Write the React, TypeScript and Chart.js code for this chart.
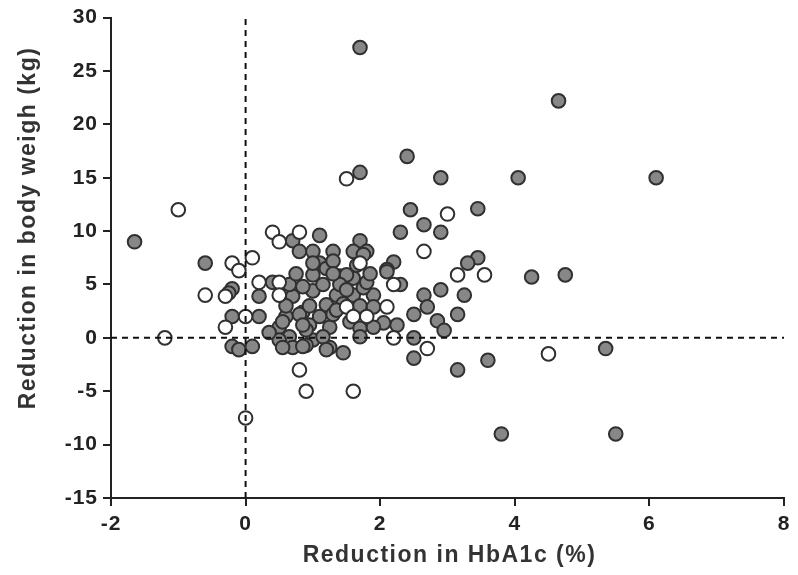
import React, { useEffect, useRef } from "react";
import { Chart, registerables } from "chart.js";

Chart.register(...registerables);

// HbA1c reduction (%) / body weight reduction (kg) — filled markers
const filledX = [
  -1.65, 1.7, 4.65, 2.4, 1.7, 2.9, 4.05, 6.1, 2.45, 3.45, 2.3, 2.65, 2.9, 1.7, 1.6, 1.8, 1.3,
  2.2, 2.1, 3.45, 3.3, 2.3, 2.65, 2.9, 3.25, 2.7, 2.5, 2.85, 2.95, 3.15, 2.5, 2.5, 3.6, 3.15,
  2.25, 2.05, 4.25, 4.75, 5.35, 3.8, 5.5, -0.6, 0.7, 1.1, 0.8, 1.0, 1.1, 1.0, -0.2, 0.4, 0.2,
  0.7, 1.0, 0.85, -0.2, 0.2, 0.6, 0.5, 0.65, 0.95, 1.25, -0.2, -0.1, 0.1, 0.5, 0.7, 1.0, 1.25,
  1.45, 1.4, 1.6, 1.35, 1.6, 1.9, 1.7, 1.9, 1.55, 1.7, 1.9, 1.7, 1.5, 2.1, 1.4, 1.75, 1.2, 1.1,
  1.3, 0.9, 1.15, 0.9, 1.2, 0.55, 0.8, 0.85, 0.85, 0.55, -0.25, 0.65, 0.85, 1.2, 1.3, 1.8, 0.35,
  1.15, 1.5, 1.85, 1.3, 0.95, 0.6, 1.45, 1.65, 1.0, 1.75, 1.35, 0.75,
];
const filledY = [
  9.0, 27.2, 22.2, 17.0, 15.5, 15.0, 15.0, 15.0, 12.0, 12.1, 9.9, 10.6, 9.9, 9.1, 8.1, 8.1, 8.1,
  7.1, 6.4, 7.5, 7.0, 5.0, 4.0, 4.5, 4.0, 2.9, 2.2, 1.6, 0.7, 2.2, 0.0, -1.9, -2.1, -3.0,
  1.2, 1.4, 5.7, 5.9, -1.0, -9.0, -9.0, 7.0, 9.1, 9.6, 8.1, 8.1, 7.0, 5.9, 4.6, 5.2, 3.9,
  3.9, 4.4, 2.4, 2.0, 2.0, 2.0, 1.0, 0.1, 1.2, 1.0, -0.8, -1.1, -0.8, -0.2, -0.9, -0.2, -0.9,
  -1.4, 5.8, 5.6, 4.0, 4.0, 4.0, 3.0, 2.9, 1.5, 0.9, 1.0, 0.1, 5.9, 6.2, 5.0, 4.7, 3.1, 2.0,
  2.2, 0.75, 0.1, -0.7, -1.1, 1.5, 2.2, 1.2, -0.8, -0.9, 4.2, 5.0, 4.8, 6.5, 7.2, 5.2, 0.5,
  5.0, 4.5, 6.0, 6.0, 3.0, 3.0, 3.2, 6.8, 7.0, 7.8, 2.6, 6.0,
];

// open markers
const openX = [
  1.5, -1.0, 3.0, 0.4, 0.8, 0.5, 2.65, 1.7, 3.15, 3.55, 2.2, 2.1, -0.2, 0.1, -0.1, -0.6, -0.3,
  0.2, 0.5, 0.5, 0.0, -0.3, -1.2, 2.2, 2.7, 4.5, 0.8, 0.9, 1.6, 0.0, 1.5, 1.6, 1.8,
];
const openY = [
  14.9, 12.0, 11.6, 9.9, 9.9, 9.0, 8.1, 7.0, 5.9, 5.9, 5.0, 2.9, 7.0, 7.5, 6.3, 4.0, 3.9,
  5.2, 5.2, 4.0, 2.0, 1.0, 0.0, 0.0, -1.0, -1.5, -3.0, -5.0, -5.0, -7.5, 2.9, 2.0, 2.0,
];

// reference lines
const zeroLineX = [0, 0];
const zeroLineXY = [-15, 30];
const zeroLineYX = [-2, 8];
const zeroLineY = [0, 0];

const xTitle = "Reduction in HbA1c (%)";
const yTitle = "Reduction in body weigh (kg)";

const FONT = "'Liberation Sans', Arial, sans-serif";

export default function App() {
  const ref = useRef<HTMLCanvasElement | null>(null);

  useEffect(() => {
    if (!ref.current) return;
    const pts = (xs: number[], ys: number[]) => xs.map((x, i) => ({ x, y: ys[i] }));

    const titlePlugin = {
      id: "titles",
      beforeDraw(chart: any) {
        (chart.ctx as any).letterSpacing = "1px";
      },
      afterDraw(chart: any) {
        const ctx = chart.ctx;
        const area = chart.chartArea;
        ctx.save();
        (ctx as any).letterSpacing = "1.5px";
        ctx.fillStyle = "#333333";
        ctx.font = `bold 23px ${FONT}`;
        ctx.textAlign = "center";
        ctx.textBaseline = "middle";
        ctx.fillText(xTitle, (area.left + area.right) / 2 + 2, 556);
        ctx.translate(29, 228);
        ctx.rotate(-Math.PI / 2);
        ctx.fillText(yTitle, 0, 0);
        ctx.restore();
      },
    };

    const chart = new Chart(ref.current, {
      type: "scatter",
      data: {
        datasets: [
          {
            type: "line",
            data: pts(zeroLineX, zeroLineXY),
            borderColor: "#111111",
            borderWidth: 2,
            borderDash: [6, 5],
            pointRadius: 0,
            fill: false,
            order: 0,
          },
          {
            type: "line",
            data: pts(zeroLineYX, zeroLineY),
            borderColor: "#111111",
            borderWidth: 2,
            borderDash: [6, 5],
            pointRadius: 0,
            fill: false,
            order: 0,
          },
          {
            data: pts(filledX, filledY),
            backgroundColor: "#878787",
            borderColor: "#303030",
            borderWidth: 2,
            pointRadius: 6.8,
            order: 2,
          },
          {
            data: pts(openX, openY),
            backgroundColor: "#ffffff",
            borderColor: "#303030",
            borderWidth: 2,
            pointRadius: 6.8,
            order: 1,
          },
        ] as any,
      },
      options: {
        animation: false,
        responsive: false,
        layout: { padding: { left: 0, top: 17, right: 14, bottom: 0 } },
        plugins: { legend: { display: false }, tooltip: { enabled: false } },
        scales: {
          x: {
            type: "linear",
            min: -2,
            max: 8,
            afterFit: (s: any) => {
              s.height = 77;
            },
            ticks: {
              stepSize: 2,
              color: "#222222",
              padding: 6,
              font: { family: FONT, size: 21, weight: "bold" },
            },
            grid: {
              drawOnChartArea: false,
              drawTicks: true,
              tickLength: 8,
              color: "#222222",
              lineWidth: 2,
            },
            border: { color: "#222222", width: 2 },
          },
          y: {
            type: "linear",
            min: -15,
            max: 30,
            afterFit: (s: any) => {
              s.width = 111;
            },
            ticks: {
              stepSize: 5,
              color: "#222222",
              padding: 5,
              font: { family: FONT, size: 21, weight: "bold" },
            },
            grid: {
              drawOnChartArea: false,
              drawTicks: true,
              tickLength: 8,
              color: "#222222",
              lineWidth: 2,
            },
            border: { color: "#222222", width: 2 },
          },
        },
      } as any,
      plugins: [titlePlugin],
    });
    return () => chart.destroy();
  }, []);

  return (
    <div style={{ position: "absolute", left: 0, top: 0, width: 798, height: 575, background: "#fff" }}>
      <canvas ref={ref} width={798} height={575} />
    </div>
  );
}
